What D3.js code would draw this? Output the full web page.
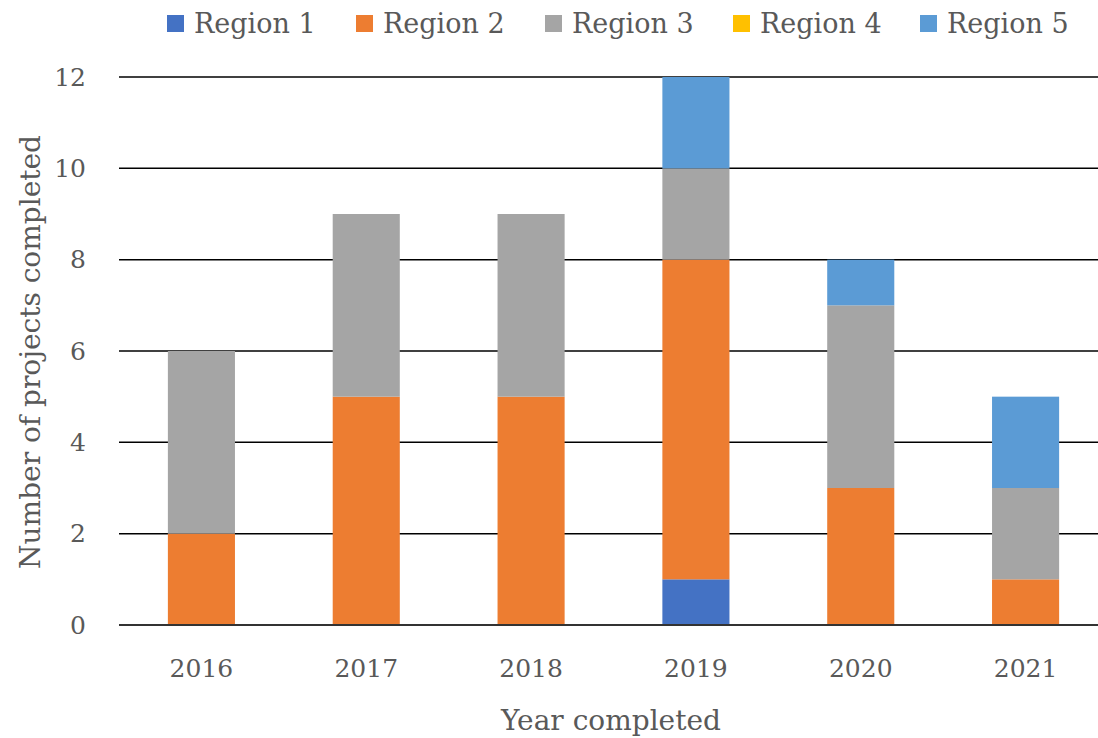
<!DOCTYPE html>
<html><head><meta charset="utf-8">
<script src="https://cdn.jsdelivr.net/npm/d3@7"></script>
<style>body{margin:0;background:#fff}svg{display:block}text{font-family:"DejaVu Serif",serif;fill:#595959}</style>
</head><body><svg id="c" width="1098" height="738"></svg>
<script>
const years = ["2016","2017","2018","2019","2020","2021"];
const seriesNames = ["Region 1","Region 2","Region 3","Region 4","Region 5"];
const region1 = [0,0,0,1,0,0];
const region2 = [2,5,5,7,3,1];
const region3 = [4,4,4,2,4,2];
const region4 = [0,0,0,0,0,0];
const region5 = [0,0,0,2,1,2];
const yTicks = [0,2,4,6,8,10,12];
const colors = ["#4472C4","#ED7D31","#A5A5A5","#FFC000","#5B9BD5"];

const allSeries = [region1,region2,region3,region4,region5];
const rows = years.map((yr,i)=>{const r={year:yr};seriesNames.forEach((s,j)=>r[s]=allSeries[j][i]);return r;});
const stacked = d3.stack().keys(seriesNames)(rows);

const svg = d3.select("#c");
const pL=119, pR=1108, pT=77, pB=625;
const x = d3.scaleBand().domain(years).range([pL,pR]).paddingInner(0.593).paddingOuter(0.2965);
const y = d3.scaleLinear().domain([0,12]).range([pB,pT]);
const fs = 25;

// gridlines
svg.append("g").selectAll("line").data(yTicks.filter(t=>t>0)).join("line")
  .attr("x1",pL).attr("x2",pR).attr("y1",d=>y(d)).attr("y2",d=>y(d))
  .attr("stroke","#000").attr("stroke-width",1.5);

// bars
svg.append("g").selectAll("g").data(stacked).join("g")
  .attr("fill",(d,i)=>colors[i])
  .selectAll("rect").data(d=>d).join("rect")
  .attr("x",d=>x(d.data.year)).attr("width",x.bandwidth())
  .attr("y",d=>y(d[1])).attr("height",d=>y(d[0])-y(d[1]));

// axis line at 0
svg.append("line").attr("x1",pL).attr("x2",pR).attr("y1",y(0)).attr("y2",y(0))
  .attr("stroke","#333").attr("stroke-width",2);

// y tick labels
const ya = svg.append("g").attr("transform",`translate(${pL},0)`)
  .call(d3.axisLeft(y).tickValues(yTicks).tickSize(0).tickPadding(33));
ya.select(".domain").remove();
ya.selectAll("text").style("font-size",fs+"px").style("font-family","DejaVu Serif").attr("fill","#595959");

// x tick labels
const xa = svg.append("g").attr("transform",`translate(0,${pB})`)
  .call(d3.axisBottom(x).tickSize(0).tickPadding(34));
xa.select(".domain").remove();
xa.selectAll("text").style("font-size",fs+"px").style("font-family","DejaVu Serif").attr("fill","#595959");

// axis titles
svg.append("text").attr("x",611).attr("y",730).attr("text-anchor","middle")
  .style("font-size","28px").text("Year completed");
svg.append("text").attr("transform","translate(40,352) rotate(-90)").attr("text-anchor","middle")
  .style("font-size","28px").text("Number of projects completed");

// legend
const legendX = [167,356,545,733,920];
const lg = svg.append("g").selectAll("g").data(seriesNames).join("g")
  .attr("transform",(d,i)=>`translate(${legendX[i]},0)`);
lg.append("rect").attr("width",17).attr("height",17).attr("y",15).attr("fill",(d,i)=>colors[i]);
lg.append("text").attr("x",27).attr("y",33).style("font-size","27px").text(d=>d);
</script></body></html>
